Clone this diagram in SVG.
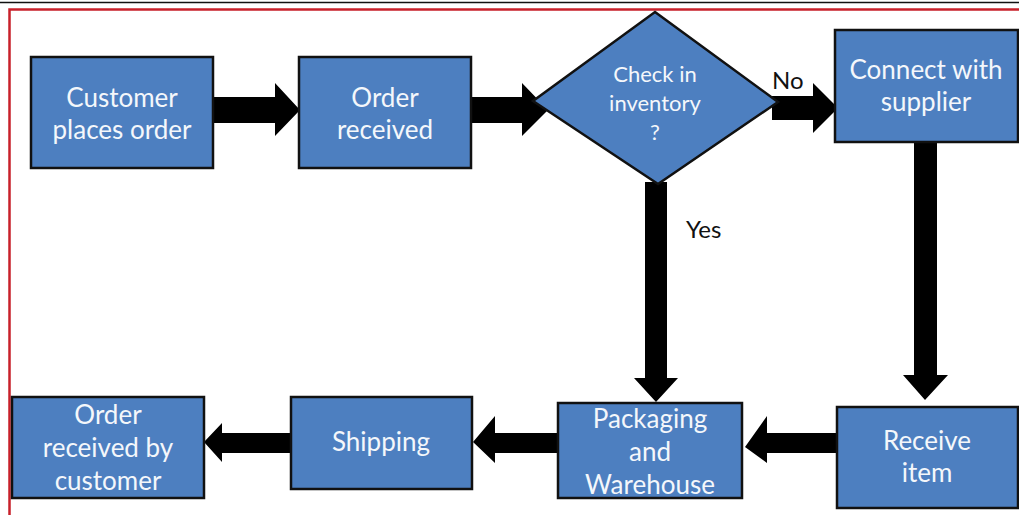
<svg xmlns="http://www.w3.org/2000/svg" width="1019" height="515" viewBox="0 0 1019 515">
<style>
.box{fill:#4d7fc0;stroke:#111;stroke-width:2.5}
.t{font-family:Lato,"Liberation Sans",sans-serif;font-size:26px;fill:#f4f7fb;text-anchor:middle}
.s{font-size:22px}
.lbl{font-family:Lato,"Liberation Sans",sans-serif;font-size:24px;fill:#111}
.arr{fill:#000}
</style>
<rect width="1019" height="515" fill="#fff"/>
<line x1="0" y1="2.5" x2="1019" y2="2.5" stroke="#111" stroke-width="1.5"/>
<polyline points="9.5,515 9.5,9.5 1019,9.5" fill="none" stroke="#c8202a" stroke-width="2.5"/>
<g id="connectors">
<polygon class="arr" points="214,97 275,97 275,83 300,110 275,136 275,123 214,123"/>
<polygon class="arr" points="471,97 522,97 522,83 548,110 522,136 522,123 471,123"/>
<polygon class="arr" points="772,96 813,96 813,83 838,108 813,133 813,120 772,120"/>
<polygon class="arr" points="914,142 937,142 937,375 948,375 925,400 903,375 914,375"/>
<polygon class="arr" points="645,182 667,182 667,378 678,378 656,402 634,378 645,378"/>
<polygon class="arr" points="836,433 767,433 767,416 745,447 767,463 767,453 836,453"/>
<polygon class="arr" points="558,433 495,433 495,416 473,442 495,463 495,453 558,453"/>
<polygon class="arr" points="291,433 222,433 222,423 204,442 222,462 222,453 291,453"/>
<text class="lbl" x="772" y="89">No</text>
<text class="lbl" x="686" y="238">Yes</text>
</g>
<g id="n1"><rect class="box" x="31" y="57" width="182" height="111"/>
<text class="t" x="122" y="107">Customer</text><text class="t" x="122" y="139">places order</text></g>
<g id="n2"><rect class="box" x="299" y="57" width="172" height="111"/>
<text class="t" x="385" y="107">Order</text><text class="t" x="385" y="139">received</text></g>
<g id="n3"><polygon class="box" points="655,12 778,102 658,184 533,101"/>
<text class="t s" x="655" y="82">Check in</text><text class="t s" x="655" y="111">inventory</text><text class="t s" x="655" y="140">?</text></g>
<g id="n4"><rect class="box" x="835" y="30" width="183" height="112"/>
<text class="t" x="926" y="79">Connect with</text><text class="t" x="926" y="111">supplier</text></g>
<g id="n5"><rect class="box" x="837" y="407" width="181" height="101"/>
<text class="t" x="927" y="450">Receive</text><text class="t" x="927" y="482">item</text></g>
<g id="n6"><rect class="box" x="558" y="403" width="184" height="95"/>
<text class="t" x="650" y="428">Packaging</text><text class="t" x="650" y="461">and</text><text class="t" x="650" y="494">Warehouse</text></g>
<g id="n7"><rect class="box" x="291" y="397" width="181" height="92"/>
<text class="t" x="381" y="451">Shipping</text></g>
<g id="n8"><rect class="box" x="12" y="397" width="192" height="101"/>
<text class="t" x="108" y="424">Order</text><text class="t" x="108" y="457">received by</text><text class="t" x="108" y="490">customer</text></g>
</svg>
